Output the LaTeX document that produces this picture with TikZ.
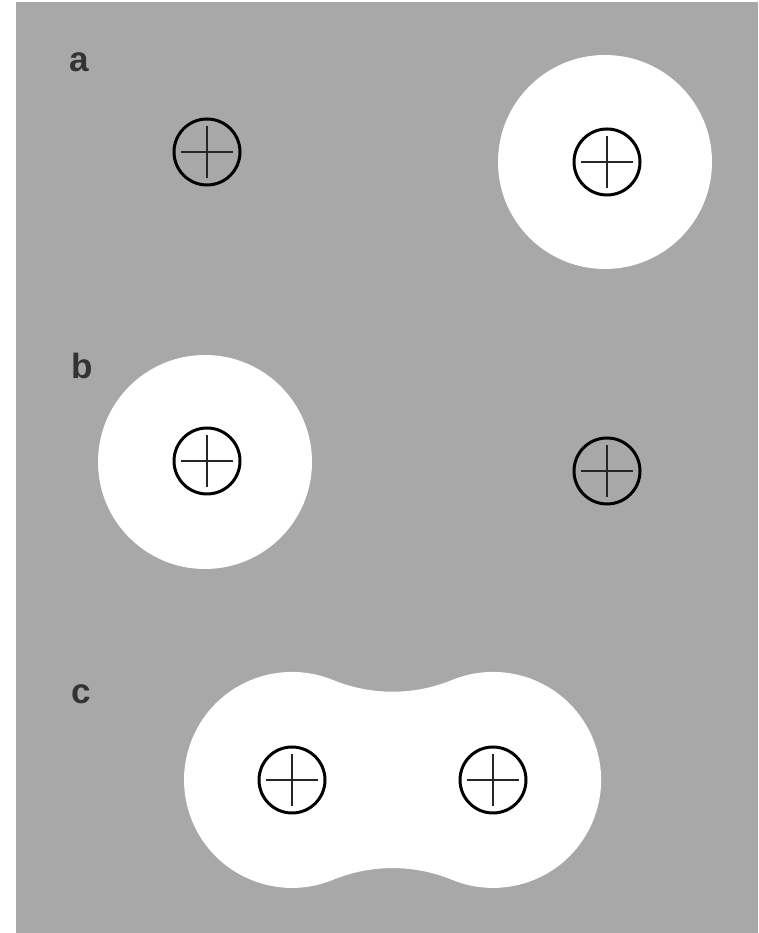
\documentclass[tikz,border=0pt]{standalone}
\usepackage{fontspec}
\setmainfont{Liberation Sans}
\definecolor{bggray}{HTML}{A8A8A8}
\begin{document}
\begin{tikzpicture}[x=1pt,y=1pt,
  holefill/.style={fill=white},
  ion/.style={circle,draw=black,line width=3pt,minimum size=66pt,inner sep=0pt},
  crossline/.style={line width=2.4pt,draw=black!85},
  lbl/.style={font=\bfseries\fontsize{35}{40}\selectfont,text=black!80,inner sep=0pt}]
\useasboundingbox (0,0) rectangle (758,933);
\fill[bggray] (16,0) rectangle (758,931);
% white hydration shells
\fill[holefill] (605,771) circle (107);
\fill[holefill] (205,471) circle (107);
\fill[holefill] (333,253)
  arc[start angle=247.7,end angle=292.3,radius=157]
  arc[start angle=112.3,end angle=-112.3,radius=108]
  arc[start angle=67.7,end angle=112.3,radius=157]
  arc[start angle=-67.7,end angle=-292.3,radius=108] -- cycle;
% ions
\newcommand{\ionmark}[2]{%
  \node[ion] (#1) at #2 {};
  \draw[crossline] ([xshift=-26pt]#1.center) -- ([xshift=26pt]#1.center);
  \draw[crossline] ([yshift=-26pt]#1.center) -- ([yshift=26pt]#1.center);}
\ionmark{aL}{(207,781)}
\ionmark{aR}{(607,771)}
\ionmark{bL}{(207,472)}
\ionmark{bR}{(607,462)}
\ionmark{cL}{(292,153)}
\ionmark{cR}{(493,153)}
% labels
\node[lbl] (la) at (79,871) {a};
\node[lbl] (lb) at (82,567) {b};
\node[lbl] (lc) at (81,239) {c};
\end{tikzpicture}
\end{document}
